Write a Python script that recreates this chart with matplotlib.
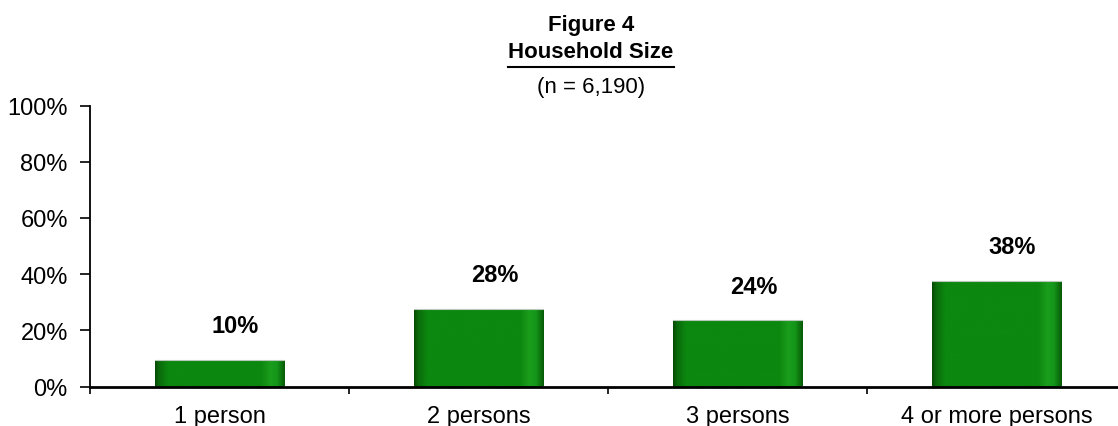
import numpy as np
import matplotlib
matplotlib.use("Agg")
import matplotlib.pyplot as plt
from matplotlib.colors import LinearSegmentedColormap

categories = ["1 person", "2 persons", "3 persons", "4 or more persons"]
values = [9.6, 27.6, 23.6, 37.6]
yticks = [0, 20, 40, 60, 80, 100]
ytick_labels = ["0%", "20%", "40%", "60%", "80%", "100%"]

plt.rcParams['font.family'] = ['Liberation Sans', 'DejaVu Sans']
narrow = ['Liberation Sans Narrow', 'Liberation Sans', 'DejaVu Sans']

W, H = 1118, 427
fig = plt.figure(figsize=(W / 100, H / 100), dpi=100)
ax = fig.add_axes([90 / W, 39.5 / H, 1036 / W, 281 / H])

x = np.arange(len(categories))
bars = ax.bar(x, values, width=0.5, color="#0c870f", edgecolor="none", zorder=2)

# horizontal gradient for the bars
cmap = LinearSegmentedColormap.from_list("g", [
    (0.0, "#064a06"), (0.03, "#0a6a0b"), (0.10, "#0c870f"),
    (0.82, "#0c870f"), (0.89, "#1b9e1c"), (0.94, "#14961a"),
    (0.985, "#0a6a0b"), (1.0, "#085a08")])
grad = np.linspace(0, 1, 256).reshape(1, -1)
for b in bars:
    x0, y0 = b.get_x(), b.get_y()
    w, h = b.get_width(), b.get_height()
    im = ax.imshow(grad, cmap=cmap, aspect="auto",
                   extent=(x0, x0 + w, y0, y0 + h), zorder=3,
                   interpolation="bilinear")
    im.set_clip_path(b)
    ax.plot([x0, x0 + w], [y0 + h, y0 + h], color="#b8c8b8", lw=0.8, zorder=4)

for xi, v in zip(x, values):
    ax.annotate(f"{v:.0f}%", (xi, v), xytext=(16, 34), textcoords="offset pixels",
                ha="center", va="center", fontsize=17, fontweight="bold", zorder=5)

ax.set_xlim(-0.5, 3.5)
ax.set_ylim(0, 100)
ax.set_yticks(yticks)
ax.set_yticklabels(ytick_labels, fontsize=17)
ax.set_xticks(x)
ax.set_xticklabels(categories, fontsize=17)
ax.set_xticks([-0.5, 0.5, 1.5, 2.5], minor=True)
ax.tick_params(axis="x", which="major", length=0, pad=13)
ax.tick_params(axis="x", which="minor", length=5, width=1.2, direction="out")
ax.tick_params(axis="y", length=7, width=1.2, direction="out", pad=9)

for s in ["top", "right"]:
    ax.spines[s].set_visible(False)
ax.spines["left"].set_linewidth(1.3)
ax.spines["bottom"].set_linewidth(2)
ax.set_facecolor("none")

cx = 591 / W
fig.text(cx, 1 - 25 / H, "Figure 4", ha="center", va="center",
         fontsize=16, fontweight="bold", family=narrow)
t = fig.text(cx, 1 - 53 / H, "Household Size", ha="center", va="center",
             fontsize=16, fontweight="bold", family=narrow)
fig.text(cx, 1 - 88 / H, "(n = 6,190)", ha="center", va="center",
         fontsize=16, family=narrow)

fig.canvas.draw()
bb = t.get_window_extent()
fig.add_artist(plt.Line2D([bb.x0 / W, bb.x1 / W], [(H - 68) / H, (H - 68) / H],
                          transform=fig.transFigure, color="black", lw=1.5))

fig.savefig("out.png", dpi=100)
